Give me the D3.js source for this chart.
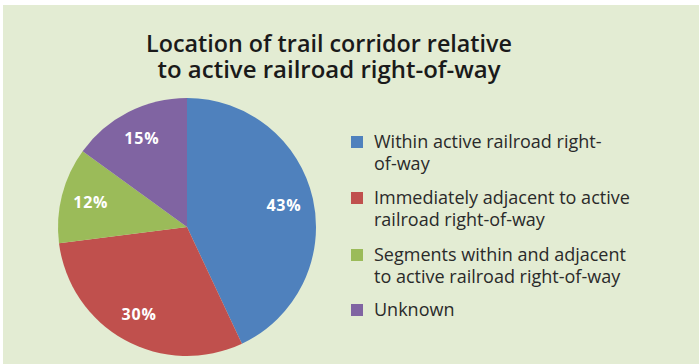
<!DOCTYPE html>
<html>
<head>
<meta charset="utf-8">
<script src="https://cdn.jsdelivr.net/npm/d3@7"></script>
<style>
  html, body { margin: 0; padding: 0; background: #ffffff; }
  svg { display: block; }
</style>
</head>
<body>
<svg id="chart" width="699" height="364"></svg>
<script>
// Share of trail corridors by location relative to active railroad right-of-way
const categories = [
  "Within active railroad right-of-way",
  "Immediately adjacent to active railroad right-of-way",
  "Segments within and adjacent to active railroad right-of-way",
  "Unknown"
];
const legendLines = [
  ["Within active railroad right-", "of-way"],
  ["Immediately adjacent to active", "railroad right-of-way"],
  ["Segments within and adjacent", "to active railroad right-of-way"],
  ["Unknown"]
];
const percentages = [43, 30, 12, 15];
const sliceColors = ["#4f81bd", "#c0504d", "#9bbb59", "#8064a2"];
const titleLines = ["Location of trail corridor relative", "to active railroad right-of-way"];

const svg = d3.select("#chart");
const W = 699, H = 364;

// panel background
svg.append("rect").attr("x", 3).attr("y", 5).attr("width", W - 3).attr("height", H - 5)
  .attr("fill", "#e3ecd3");

// title, two centred lines
const titleCx = 329;
const titleWidths = [366, 343];
titleLines.forEach((t, i) => {
  svg.append("text")
    .attr("x", titleCx).attr("y", 52 + i * 26)
    .attr("text-anchor", "middle")
    .attr("font-family", "'Open Sans', sans-serif")
    .attr("font-weight", 600)
    .attr("font-size", 23.5)
    .attr("textLength", titleWidths[i])
    .attr("lengthAdjust", "spacingAndGlyphs")
    .attr("fill", "#1a1a1a")
    .text(t);
});

// pie
const cx = 187, cy = 227, r = 129;
const pie = d3.pie().sort(null).value(d => d.value);
const arcs = pie(percentages.map((v, i) => ({ value: v, name: categories[i], color: sliceColors[i] })));
const arc = d3.arc().innerRadius(0).outerRadius(r);
const labelArc = d3.arc().innerRadius(r * 0.77).outerRadius(r * 0.77);

const g = svg.append("g").attr("transform", `translate(${cx},${cy})`);
g.selectAll("path.slice").data(arcs).join("path")
  .attr("class", "slice")
  .attr("d", arc)
  .attr("fill", d => d.data.color);

g.selectAll("text.pct").data(arcs).join("text")
  .attr("class", "pct")
  .attr("transform", d => `translate(${labelArc.centroid(d)})`)
  .attr("text-anchor", "middle")
  .attr("dy", "0.36em")
  .attr("font-family", "'Open Sans', sans-serif")
  .attr("font-weight", 700)
  .attr("font-size", 16)
  .attr("letter-spacing", 0.8)
  .attr("fill", "#ffffff")
  .text(d => d.data.value + "%");

// legend
const legendY = [148, 204, 261, 316];
const lg = svg.append("g");
legendLines.forEach((lines, i) => {
  lg.append("rect")
    .attr("x", 351).attr("y", legendY[i] - 12)
    .attr("width", 12).attr("height", 12)
    .attr("fill", sliceColors[i]);
  const t = lg.append("text")
    .attr("x", 374).attr("y", legendY[i])
    .attr("font-family", "'Open Sans', sans-serif")
    .attr("font-size", 18)
    .attr("fill", "#2a2a2a");
  lines.forEach((line, j) => {
    t.append("tspan").attr("x", 374).attr("dy", j === 0 ? 0 : 21.5).text(line);
  });
});
</script>
</body>
</html>
